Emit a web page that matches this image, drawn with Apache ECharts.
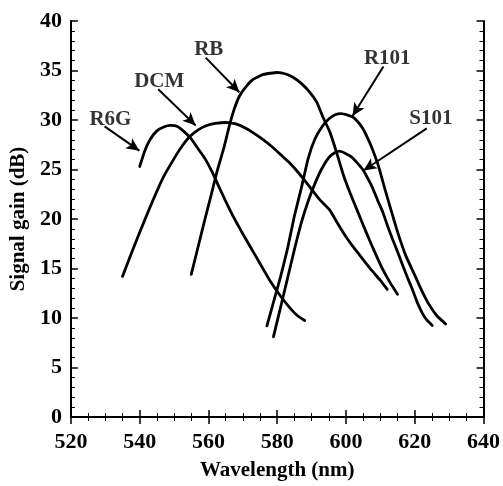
<!DOCTYPE html>
<html>
<head>
<meta charset="utf-8">
<script src="https://cdn.jsdelivr.net/npm/echarts@6/dist/echarts.min.js"></script>
<style>
  html, body { margin: 0; padding: 0; background: #fff; }
  #chart { width: 503px; height: 486px; }
</style>
</head>
<body>
<div id="chart"></div>
<script>
// Gain spectra of five dyes: [wavelength (nm), signal gain (dB)]
const dyeNames = ['R6G', 'DCM', 'RB', 'R101', 'S101'];

const gainR6G = [[540,25.3],[541.5,26.9],[543,28.0],[545,28.9],[547,29.3],[549,29.45],[551,29.35],[553,28.8],
  [555,28.1],[557,27.1],[559,26.1],[561,24.8],[563,23.3],[565,21.8],[567,20.4],[569.5,18.8],[572,17.3],
  [575,15.5],[578,13.7],[581,12.2],[584,10.9],[586,10.2],[588,9.75]];

const gainDCM = [[535,14.2],[538,16.9],[541,19.5],[544,22.0],[547,24.3],[550,26.1],[552,27.2],[554.5,28.3],
  [557,29.0],[559.5,29.45],[562,29.65],[565,29.75],[568,29.6],[571,29.15],[573.5,28.6],[576,28.0],
  [578.5,27.3],[581,26.5],[583.5,25.7],[586,24.75],[588,23.9],[590,23.0],[592.5,21.9],[595.3,20.9],
  [597.5,19.6],[600,18.2],[602.5,17.0],[605,15.9],[607.5,14.8],[610,13.8],[612,12.9]];

const gainRB = [[555,14.4],[557,17.2],[559,20.0],[560.7,22.3],[562.5,24.8],[564.5,27.2],[566,29.3],[567.4,31.0],
  [569,32.4],[571,33.4],[573,34.1],[576,34.6],[580,34.8],[582.5,34.65],[584.7,34.3],[587,33.7],[589.5,32.8],
  [591.5,31.8],[593.3,30.3],[595.3,28.8],[597.2,26.8],[599.1,24.6],[601,22.8],[603,21.1],[605,19.4],
  [606.8,17.9],[608.7,16.4],[610.7,14.9],[612.8,13.6],[615,12.4]];

const gainR101 = [[577,9.2],[579,11.7],[581,14.2],[583,17.0],[585,20.3],[587,23.1],[589,26.1],[591,28.1],
  [593,29.3],[595,30.1],[597,30.55],[598.6,30.65],[600.5,30.5],[602,30.3],[603.5,29.8],[604.9,29.15],
  [606,28.4],[607.3,27.4],[608.5,26.3],[609.5,25.3],[610.7,23.8],[612.6,21.5],[615,18.7],[617.4,16.3],
  [620.3,14.1],[622,12.8],[624.1,11.4],[626.5,10.2],[629,9.4]];

const gainS101 = [[578.9,8.1],[581,11.1],[583,14.0],[585,16.9],[587,19.6],[589,21.8],[591,23.6],[593,25.1],
  [595,26.2],[596.7,26.7],[598.2,26.85],[600,26.6],[601.5,26.3],[603.2,25.7],[604.9,25.0],[606.5,24.0],
  [607.8,23.1],[609.2,21.9],[610.7,20.7],[612,19.4],[613.5,18.0],[615,16.7],[616.4,15.4],[618,14.0],
  [619.3,12.9],[620.7,11.6],[622.2,10.5],[623.5,9.8],[625.1,9.25]];

const curves = [gainR6G, gainDCM, gainRB, gainR101, gainS101];

// Callout text positions and arrow tail/head, in data units
const labelAt   = [[531.5,30.05],[545.7,33.9],[560.1,37.1],[612,36.2],[624.7,30.15]];
const arrowFrom = [[529.8,29.35],[545.4,33.1],[559.2,36.3],[610.9,35.4],[623.5,29.15]];
const arrowTo   = [[539.9,26.9],[556.3,29.45],[569.0,32.8],[601.9,30.4],[605.1,24.9]];

// Axis ticks
const xTicks = [520, 540, 560, 580, 600, 620, 640];
const yTicks = [0, 5, 10, 15, 20, 25, 30, 35, 40];

const FONT = '"Liberation Serif", "Times New Roman", serif';
const INK = '#000';

function frameAxis(extra) {
  return Object.assign({
    type: 'value',
    axisLine: { show: true, lineStyle: { color: INK, width: 2 } },
    axisTick: { show: true, inside: true, length: 7, lineStyle: { color: INK, width: 1.5 } },
    splitLine: { show: false },
    minorSplitLine: { show: false }
  }, extra);
}

const xBase = { min: xTicks[0], max: xTicks[xTicks.length - 1], interval: xTicks[1] - xTicks[0] };
const yBase = { min: yTicks[0], max: yTicks[yTicks.length - 1], interval: yTicks[1] - yTicks[0] };
const xMinor = { show: true, splitNumber: 4, length: 4, lineStyle: { color: INK, width: 1 } };
const yMinor = { show: true, splitNumber: 5, length: 4, lineStyle: { color: INK, width: 1 } };

const chart = echarts.init(document.getElementById('chart'), null, { renderer: 'canvas' });

const series = curves.map((pts, i) => ({
  name: dyeNames[i],
  type: 'line',
  data: pts,
  smooth: 0.15,
  showSymbol: false,
  lineStyle: { color: INK, width: 2.8, cap: 'round', join: 'round' },
  z: 3
}));

series.push({
  type: 'scatter',
  data: dyeNames.map((n, i) => [labelAt[i][0], labelAt[i][1], n]),
  symbolSize: 0,
  label: {
    show: true,
    position: 'inside',
    formatter: p => p.data[2],
    color: INK,
    fontFamily: FONT,
    fontWeight: 'bold',
    fontSize: 21
  },
  markLine: {
    silent: true,
    symbol: ['none', 'arrow'],
    symbolSize: [9, 13],
    label: { show: false },
    lineStyle: { color: INK, width: 2, type: 'solid' },
    data: dyeNames.map((n, i) => [{ coord: arrowFrom[i] }, { coord: arrowTo[i] }])
  },
  z: 4
});

chart.setOption({
  animation: false,
  backgroundColor: '#fff',
  grid: { left: 69, right: 18, top: 21, bottom: 63, containLabel: false },
  xAxis: [
    frameAxis(Object.assign({}, xBase, {
      position: 'bottom',
      minorTick: xMinor,
      axisLabel: { color: INK, fontFamily: FONT, fontWeight: 'bold', fontSize: 22, margin: 14 },
      name: 'Wavelength (nm)',
      nameLocation: 'middle',
      nameGap: 43,
      nameTextStyle: { color: INK, fontFamily: FONT, fontWeight: 'bold', fontSize: 21 }
    })),
    frameAxis(Object.assign({}, xBase, {
      position: 'top',
      minorTick: xMinor,
      axisLabel: { show: false }
    }))
  ],
  yAxis: [
    frameAxis(Object.assign({}, yBase, {
      position: 'left',
      minorTick: yMinor,
      axisLabel: { color: INK, fontFamily: FONT, fontWeight: 'bold', fontSize: 22, margin: 9 },
      name: 'Signal gain (dB)',
      nameLocation: 'middle',
      nameGap: 40,
      nameRotate: 90,
      nameTextStyle: { color: INK, fontFamily: FONT, fontWeight: 'bold', fontSize: 21 }
    })),
    frameAxis(Object.assign({}, yBase, {
      position: 'right',
      minorTick: yMinor,
      axisLabel: { show: false }
    }))
  ],
  series: series
});
</script>
</body>
</html>
